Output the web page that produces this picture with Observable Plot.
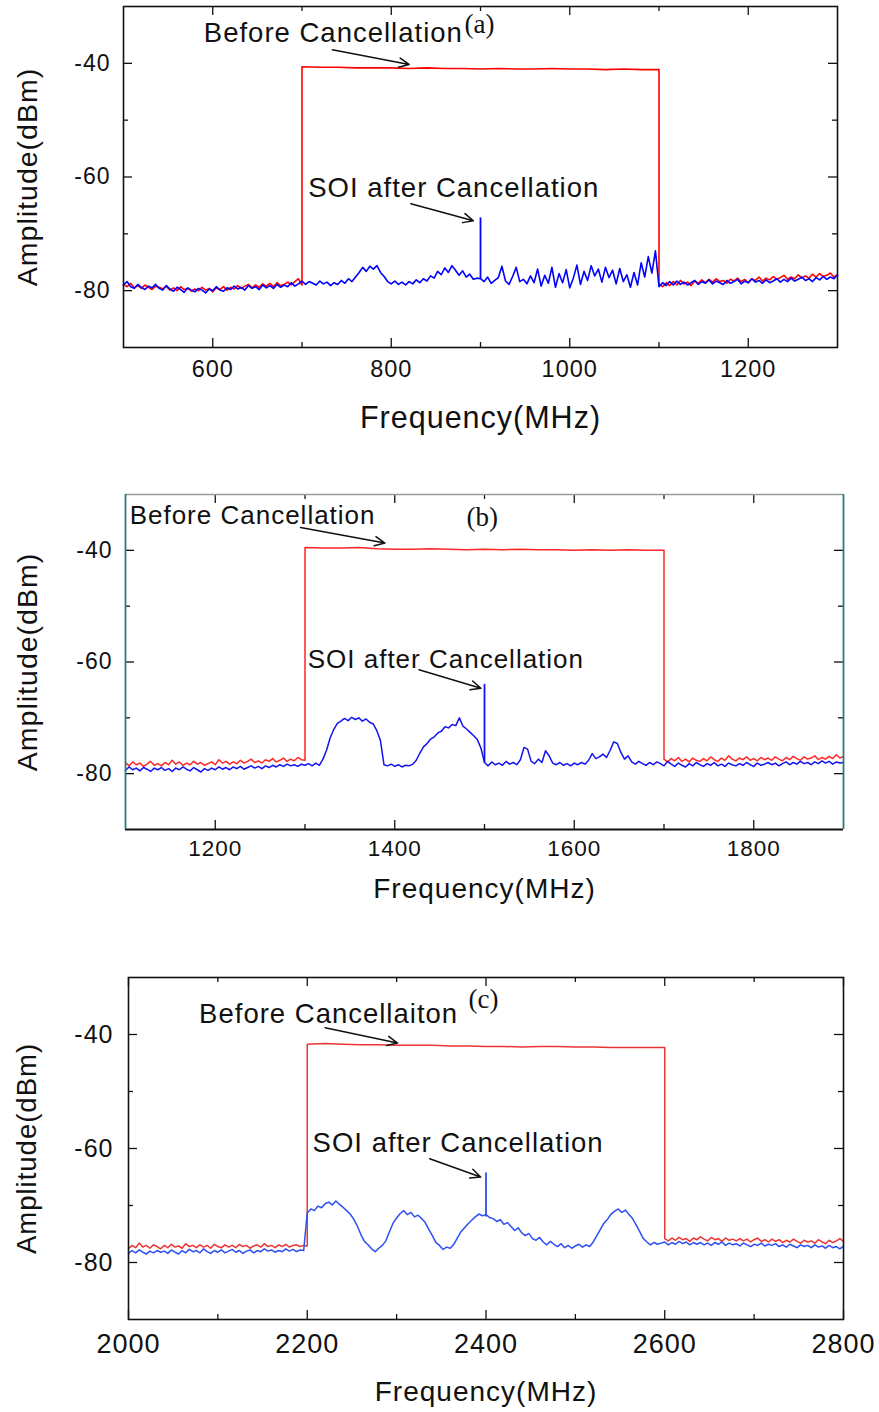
<!DOCTYPE html>
<html><head><meta charset="utf-8">
<script src="https://cdn.jsdelivr.net/npm/d3@7"></script>
<script src="https://cdn.jsdelivr.net/npm/@observablehq/plot@0.6"></script>
<style>
body{margin:0;background:#fff;}
#wrap{position:relative;width:879px;height:1412px;overflow:hidden;background:#fff;}
#wrap > svg{position:absolute;left:0;}
svg text{letter-spacing:1px;}
svg g.tag text{letter-spacing:0;}
</style></head><body><div id="wrap"></div>
<script>
// ---------- shared ----------
const yDomain = [-90, -30];
const yLabelTicks = [-40, -60, -80];
const yMinorTicks = [-50, -70];
const yTitle = "Amplitude(dBm)";
const xTitle = "Frequency(MHz)";

// ---------- panel (a) ----------
const xDomainA = [500, 1300];
const bandA = [700, 1100];
const xLabelTicksA = [600, 800, 1000, 1200];
const xMinorTicksA = [700, 900, 1100];
const blueA = [
-79.0,-78.4,-79.3,-79.6,-78.9,-79.4,-79.8,-79.2,-79.5,-78.9,
-79.6,-79.9,-79.1,-79.7,-80.1,-79.4,-79.8,-80.3,-79.5,-79.9,
-80.2,-79.6,-79.9,-80.4,-79.7,-80.0,-79.3,-79.9,-80.1,-79.5,
-79.8,-79.2,-79.7,-79.4,-79.9,-79.1,-79.6,-79.3,-79.8,-79.0,
-79.5,-79.1,-79.6,-78.9,-79.4,-79.0,-79.3,-78.6,-79.2,-78.8,
-78.3,-78.9,-78.4,-78.7,-79.0,-78.3,-78.8,-78.5,-79.1,-78.6,
-78.9,-78.2,-78.7,-77.9,-78.4,-77.6,-76.8,-75.9,-76.6,-75.7,
-76.2,-75.6,-76.8,-77.5,-78.4,-78.8,-78.3,-78.9,-78.5,-79.0,
-78.4,-78.8,-78.1,-78.6,-77.9,-78.3,-77.4,-77.8,-76.6,-77.2,
-76.0,-76.8,-75.6,-76.4,-77.3,-76.5,-77.6,-77.1,-78.0,-77.8,
-77.9,-78.4,-77.6,-78.7,-78.2,-77.7,-75.7,-78.3,-78.9,-77.5,
-75.9,-78.4,-78.0,-78.8,-77.4,-78.6,-76.2,-79.2,-77.3,-78.7,
-75.9,-79.4,-77.0,-78.6,-76.3,-79.5,-77.8,-75.5,-78.9,-76.6,
-78.2,-75.6,-77.4,-76.2,-78.5,-75.9,-77.7,-76.4,-78.8,-76.1,
-78.4,-77.2,-79.4,-76.8,-79.0,-75.1,-77.6,-74.0,-76.9,-73.0,
-79.3,-78.6,-79.1,-78.4,-79.0,-78.3,-78.9,-78.5,-79.0,-78.6,
-78.2,-78.9,-78.4,-78.7,-78.1,-78.8,-78.3,-78.6,-78.9,-78.2,
-78.7,-78.4,-78.0,-78.8,-78.3,-78.6,-77.9,-78.5,-78.2,-78.7,
-78.1,-78.6,-78.3,-77.9,-78.5,-78.0,-78.4,-77.8,-78.3,-78.0,
-77.6,-78.2,-77.9,-78.4,-77.7,-78.1,-77.5,-78.0,-77.6,-77.9,
-77.2];
const redLowA = [
-78.9,-79.3,-78.7,-79.5,-79.1,-79.6,-79.0,-79.4,-79.8,-79.2,
-79.4,-79.7,-79.2,-79.9,-79.5,-80.0,-79.3,-79.8,-79.6,-80.1,
-79.7,-80.0,-79.4,-79.9,-79.6,-80.2,-79.5,-79.8,-79.3,-79.9,
-79.4,-79.7,-79.1,-79.6,-79.2,-78.9,-79.5,-79.0,-79.4,-78.8,
-79.2,-78.7,-79.3,-78.6,-79.1,-78.9,-78.5,-79.0,-78.4,-77.9,
-79.0];
const redBandA = [-40.6,-40.7,-40.7,-40.8,-40.8,-40.8,-40.9,-40.8,-40.9,-40.9,-41.0,-40.9,-41.0,-41.0,-40.9,-41.0,-41.0,-41.1,-41.0,-41.1,-41.1];
const redHighA = [
-78.9,
-79.3,-78.6,-79.1,-78.4,-79.0,-78.2,-78.8,-78.5,-79.1,-78.3,
-78.7,-78.1,-78.6,-78.0,-78.5,-77.9,-78.4,-78.2,-78.7,-78.0,
-78.3,-77.8,-78.4,-78.0,-78.6,-77.9,-78.2,-77.6,-78.3,-77.8,
-78.1,-77.5,-78.0,-77.7,-77.3,-78.0,-77.6,-77.9,-77.2,-77.8,
-77.4,-77.8,-77.1,-77.6,-77.0,-77.5,-77.3,-76.9,-77.6,-77.2];
const spikeA = [{f: 900, base: -78.0, peak: -67.2}];
const notesA = [
  {label: "Before Cancellation", f: 590, db: -36.3},
  {label: "SOI after Cancellation", f: 707, db: -63.5}];
const tagA = [{label: "(a)", f: 882, db: -34.6}];
const arrowsA = [
  {f1: 734, db1: -37.6, f2: 820, db2: -40.2},
  {f1: 822, db1: -64.7, f2: 892, db2: -67.7}];

// ---------- panel (b) ----------
const xDomainB = [1100, 1900];
const bandB = [1300, 1700];
const xLabelTicksB = [1200, 1400, 1600, 1800];
const xMinorTicksB = [1300, 1500, 1700];
const blueB = [
-79.4,-78.8,-79.3,-79.0,-79.5,-78.9,-79.2,-79.6,-79.0,-79.3,
-78.9,-79.4,-79.1,-79.6,-79.0,-79.3,-78.8,-79.2,-79.5,-78.9,
-79.3,-79.7,-79.1,-79.4,-79.0,-79.3,-78.8,-79.2,-78.9,-79.3,
-78.8,-79.1,-78.7,-79.2,-78.9,-78.6,-79.0,-78.7,-79.1,-78.6,
-78.9,-78.5,-78.8,-78.4,-78.7,-78.3,-78.6,-78.4,-78.7,-78.3,
-78.5,-78.2,-78.6,-78.1,-78.5,-77.4,-75.8,-73.6,-72.1,-71.0,
-70.6,-70.1,-70.5,-69.9,-70.3,-70.0,-70.6,-70.2,-70.8,-71.1,
-72.3,-74.0,-78.4,-78.6,-78.3,-78.7,-78.4,-78.8,-78.5,-78.6,
-78.3,-77.6,-76.3,-75.2,-74.6,-73.8,-73.4,-72.7,-72.4,-71.6,
-71.8,-71.2,-71.4,-70.0,-71.5,-72.0,-72.6,-73.2,-73.9,-75.4,
-78.0,-78.6,-77.9,-78.4,-78.1,-78.5,-77.8,-78.3,-78.0,-78.4,
-77.5,-75.3,-75.6,-77.8,-78.2,-77.4,-78.0,-75.9,-76.8,-78.1,
-78.4,-78.0,-78.5,-78.2,-78.6,-78.1,-78.4,-78.0,-78.3,-77.6,
-76.4,-77.3,-77.0,-76.5,-77.1,-75.8,-74.3,-74.6,-76.2,-77.4,
-76.8,-77.9,-78.3,-77.8,-78.2,-78.5,-78.0,-78.4,-77.9,-78.2,
-78.6,-77.8,-78.3,-78.7,-78.1,-78.5,-78.8,-78.2,-78.6,-78.0,
-78.4,-78.7,-78.2,-78.5,-78.0,-78.6,-78.3,-78.7,-78.1,-78.4,
-78.6,-78.2,-78.5,-78.0,-78.4,-78.7,-78.1,-78.5,-78.3,-78.0,
-78.4,-78.1,-78.6,-78.2,-77.9,-78.4,-78.0,-78.3,-77.8,-78.2,
-78.0,-78.4,-77.9,-78.2,-77.7,-78.1,-77.8,-78.3,-77.9,-78.1,
-78.0];
const redLowB = [
-78.0,-78.6,-77.9,-78.4,-78.1,-78.7,-78.3,-77.8,-78.5,-78.2,
-78.6,-78.0,-78.4,-77.6,-78.3,-77.9,-78.5,-78.1,-78.4,-77.8,
-78.3,-78.0,-78.5,-78.2,-77.9,-78.4,-77.5,-78.1,-77.8,-78.3,
-77.9,-78.2,-77.6,-78.1,-77.8,-77.4,-78.0,-77.7,-78.1,-77.5,
-77.8,-77.3,-77.9,-77.6,-77.2,-77.8,-77.4,-77.7,-77.1,-77.5,
-77.6];
const redBandB = [-39.5,-39.6,-39.6,-39.5,-39.7,-39.8,-39.8,-39.7,-39.8,-39.9,-39.8,-39.9,-39.8,-39.9,-39.9,-40.0,-39.9,-40.0,-39.9,-40.0,-40.0];
const redHighB = [
-77.4,
-77.9,-77.3,-77.7,-77.1,-77.8,-77.4,-77.9,-77.2,-77.6,-77.8,
-77.3,-77.7,-77.0,-77.5,-77.8,-77.2,-77.6,-76.8,-77.4,-77.7,
-77.2,-77.5,-77.0,-77.6,-77.3,-77.7,-77.1,-77.5,-77.2,-77.6,
-77.0,-77.4,-77.7,-77.1,-77.5,-76.9,-77.3,-77.6,-77.0,-77.4,
-77.2,-76.8,-77.5,-77.1,-77.4,-76.9,-77.3,-76.6,-77.2,-76.9];
const spikeB = [{f: 1500, base: -78.0, peak: -64.0}];
const notesB = [
  {label: "Before Cancellation", f: 1104.6, db: -35.3},
  {label: "SOI after Cancellation", f: 1303, db: -61.0}];
const tagB = [{label: "(b)", f: 1480, db: -35.6}];
const arrowsB = [
  {f1: 1295, db1: -35.9, f2: 1389, db2: -38.7},
  {f1: 1427, db1: -61.4, f2: 1496, db2: -64.7}];

// ---------- panel (c) ----------
const xDomainC = [2000, 2800];
const bandC = [2200, 2600];
const xLabelTicksC = [2000, 2200, 2400, 2600, 2800];
const xMinorTicksC = [2100, 2300, 2500, 2700];
const blueC = [
-78.4,-77.9,-78.3,-77.8,-78.2,-78.5,-78.0,-78.3,-77.9,-78.2,
-78.0,-78.4,-77.8,-78.2,-78.5,-77.9,-78.3,-77.7,-78.1,-77.9,
-78.3,-77.6,-78.1,-78.4,-77.9,-78.2,-77.8,-78.3,-78.0,-77.7,
-78.2,-77.9,-78.4,-78.0,-77.8,-78.3,-77.9,-78.1,-77.6,-78.0,
-77.8,-78.2,-77.9,-78.1,-77.6,-78.0,-77.7,-78.1,-77.8,-77.9,
-71.3,-70.6,-70.9,-70.1,-70.4,-69.7,-69.4,-69.9,-69.2,-69.8,
-70.3,-70.9,-71.5,-72.4,-73.6,-75.1,-76.3,-76.9,-77.6,-78.1,
-77.5,-77.0,-76.2,-74.6,-73.1,-72.2,-71.4,-70.9,-71.6,-71.2,
-72.0,-71.7,-72.3,-73.0,-74.2,-75.3,-76.5,-77.0,-77.7,-77.3,
-77.5,-76.8,-75.7,-74.6,-73.9,-73.2,-72.6,-72.0,-71.5,-71.8,
-71.6,-72.1,-72.3,-72.8,-72.5,-73.3,-73.0,-73.7,-74.4,-73.9,
-74.8,-75.3,-74.9,-75.8,-76.1,-75.6,-76.4,-76.9,-76.3,-76.8,
-77.2,-76.7,-77.4,-77.0,-77.5,-77.1,-76.8,-77.3,-76.9,-77.2,
-76.4,-75.3,-74.2,-73.1,-72.4,-71.5,-71.0,-70.6,-71.2,-70.8,
-71.6,-72.3,-73.4,-74.6,-75.8,-76.4,-76.9,-76.5,-76.8,-76.6,
-76.4,-76.9,-76.5,-76.8,-76.3,-76.7,-76.4,-76.9,-76.5,-76.8,
-76.5,-76.9,-76.6,-77.0,-76.5,-76.8,-76.4,-77.0,-76.6,-76.9,
-76.7,-77.1,-76.6,-76.9,-77.2,-76.8,-77.0,-76.6,-77.1,-76.8,
-77.0,-76.7,-77.2,-76.9,-77.3,-76.8,-77.1,-77.4,-76.9,-77.2,
-77.0,-77.4,-76.9,-77.3,-77.1,-77.5,-77.0,-77.4,-77.2,-77.6,
-77.1];
const redLowC = [
-77.6,-77.0,-77.4,-76.6,-77.3,-77.0,-77.5,-76.9,-77.2,-77.6,
-77.0,-77.4,-76.8,-77.3,-77.1,-77.5,-76.7,-77.2,-77.0,-77.4,
-76.9,-77.3,-77.0,-77.5,-76.8,-77.2,-77.4,-76.9,-77.3,-77.0,
-77.4,-76.8,-77.2,-77.0,-77.5,-77.1,-76.9,-77.3,-76.7,-77.2,
-77.0,-77.4,-76.9,-77.2,-76.8,-77.3,-77.0,-76.9,-77.2,-77.0,
-77.1];
const redBandC = [-41.7,-41.6,-41.7,-41.8,-41.8,-41.9,-41.9,-41.9,-42.0,-42.0,-42.1,-42.1,-42.2,-42.1,-42.1,-42.2,-42.2,-42.3,-42.3,-42.3,-42.3];
const redHighC = [
-75.8,
-76.2,-75.7,-76.1,-75.6,-76.0,-75.8,-76.3,-75.7,-76.0,-75.5,
-75.9,-76.2,-75.6,-76.0,-75.8,-76.3,-75.7,-76.1,-75.9,-76.2,
-75.8,-76.2,-75.9,-76.4,-76.0,-75.7,-76.3,-76.0,-76.4,-75.9,
-76.3,-76.0,-76.5,-76.1,-76.4,-75.9,-76.3,-76.6,-76.1,-76.4,
-76.2,-76.6,-76.0,-76.4,-76.7,-76.1,-76.5,-76.2,-75.8,-76.3];
const spikeC = [{f: 2400, base: -72.0, peak: -64.3}];
const notesC = [
  {label: "Before Cancellaiton", f: 2079, db: -37.9},
  {label: "SOI after Cancellation", f: 2206, db: -60.7}];
const tagC = [{label: "(c)", f: 2380.5, db: -35.4}];
const arrowsC = [
  {f1: 2220, db1: -38.8, f2: 2301, db2: -41.5},
  {f1: 2337, db1: -61.8, f2: 2394, db2: -65.0}];

// ---------- builder ----------
function seg(start, step, values) { return values.map((v, i) => ({f: start + step * i, db: v})); }

function panel(c) {
  const W = 879;
  const ph = c.height - c.mt - c.mb, pw = W - c.ml - c.mr;
  const blue = seg(c.xDomain[0], 4, c.blue);
  const red = [...seg(c.xDomain[0], 4, c.redLow), ...seg(c.band[0], 20, c.redBand), ...seg(c.band[1], 4, c.redHigh)];
  const ink = "#111";
  const frameMarks = c.tealFrame ? [
    Plot.ruleY([c.yDomain[1]], {stroke: "#9a9a9a", strokeWidth: 1.5}),
    Plot.ruleY([c.yDomain[0]], {stroke: "#111", strokeWidth: 1.8}),
    Plot.ruleX([c.xDomain[0]], {stroke: "#2b7c7c", strokeWidth: 1.8}),
    Plot.ruleX([c.xDomain[1]], {stroke: "#2b7c7c", strokeWidth: 1.8})
  ] : [Plot.frame({stroke: "#111", strokeWidth: 1.6})];
  const svg = Plot.plot({
    width: W, height: c.height,
    marginLeft: c.ml, marginRight: c.mr, marginTop: c.mt, marginBottom: c.mb,
    x: {domain: c.xDomain},
    y: {domain: c.yDomain},
    style: {fontFamily: "'Liberation Sans', Arial, sans-serif", color: ink, background: "transparent", overflow: "visible"},
    marks: [
      Plot.line(red, {x: "f", y: "db", stroke: c.redColor, strokeWidth: c.lw}),
      Plot.line(blue, {x: "f", y: "db", stroke: c.blueColor, strokeWidth: c.lw}),
      Plot.ruleX(c.spike, {x: "f", y1: "base", y2: "peak", stroke: c.blueColor, strokeWidth: 1.8}),
      // inward ticks
      Plot.ruleX(c.xLabelTicks, {insetTop: ph - 9, stroke: ink, strokeWidth: 1.3}),
      Plot.ruleX(c.xMinorTicks, {insetTop: ph - 5, stroke: ink, strokeWidth: 1.3}),
      Plot.ruleX(c.xLabelTicks, {insetBottom: ph - 9, stroke: ink, strokeWidth: 1.3}),
      Plot.ruleX(c.xMinorTicks, {insetBottom: ph - 5, stroke: ink, strokeWidth: 1.3}),
      Plot.ruleY(c.yLabelTicks, {insetRight: pw - 9, stroke: ink, strokeWidth: 1.3}),
      Plot.ruleY(c.yMinorTicks, {insetRight: pw - 5, stroke: ink, strokeWidth: 1.3}),
      Plot.ruleY(c.yLabelTicks, {insetLeft: pw - 9, stroke: ink, strokeWidth: 1.3}),
      Plot.ruleY(c.yMinorTicks, {insetLeft: pw - 5, stroke: ink, strokeWidth: 1.3}),
      ...frameMarks,
      Plot.axisX({ticks: c.xLabelTicks, tickSize: 0, tickPadding: c.xPad, fontSize: c.xTickFont, tickFormat: d => String(d), label: null}),
      Plot.axisY({ticks: c.yLabelTicks, tickSize: 0, tickPadding: c.yPad, fontSize: c.yTickFont, tickFormat: d => String(d), label: null}),
      Plot.text([xTitle], {text: d => d, frameAnchor: "bottom", dy: c.xTitleDy, lineAnchor: "bottom", fontSize: c.xTitleFont, fill: ink}),
      Plot.text([yTitle], {text: d => d, frameAnchor: "left", dx: c.yTitleDx, rotate: -90, textAnchor: "middle", lineAnchor: "middle", fontSize: c.yTitleFont, fill: ink}),
      Plot.arrow(c.arrows, {x1: "f1", y1: "db1", x2: "f2", y2: "db2", stroke: ink, strokeWidth: 1.5, headLength: 11, headAngle: 50}),
      Plot.text(c.notes, {x: "f", y: "db", text: "label", textAnchor: "start", lineAnchor: "bottom", fontSize: c.noteFont, fill: ink}),
      Plot.text(c.tag, {x: "f", y: "db", text: "label", textAnchor: "start", lineAnchor: "bottom", fontSize: 27, fontFamily: "'Liberation Serif', 'Times New Roman', serif", fill: ink, className: "tag"})
    ]
  });
  svg.style.top = c.top + "px";
  return svg;
}

const wrap = document.getElementById("wrap");
wrap.appendChild(panel({
  top: 0, height: 440, ml: 123, mr: 42, mt: 6, mb: 93,
  xDomain: xDomainA, band: bandA, yDomain,
  blue: blueA, redLow: redLowA, redBand: redBandA, redHigh: redHighA, spike: spikeA,
  xLabelTicks: xLabelTicksA, xMinorTicks: xMinorTicksA, yLabelTicks, yMinorTicks,
  notes: notesA, tag: tagA, arrows: arrowsA,
  redColor: "#ff0000", blueColor: "#0000ff", lw: 1.6,
  xPad: 13, yPad: 13, xTickFont: 23.5, yTickFont: 23,
  xTitleDy: 80, xTitleFont: 30.5, yTitleDx: -96, yTitleFont: 28.5, noteFont: 27.5
}));
wrap.appendChild(panel({
  top: 480, height: 430, ml: 125, mr: 36, mt: 14, mb: 81,
  xDomain: xDomainB, band: bandB, yDomain, tealFrame: true,
  blue: blueB, redLow: redLowB, redBand: redBandB, redHigh: redHighB, spike: spikeB,
  xLabelTicks: xLabelTicksB, xMinorTicks: xMinorTicksB, yLabelTicks, yMinorTicks,
  notes: notesB, tag: tagB, arrows: arrowsB,
  redColor: "#ff2626", blueColor: "#1414ee", lw: 1.5,
  xPad: 11, yPad: 13, xTickFont: 22.5, yTickFont: 23,
  xTitleDy: 68, xTitleFont: 28, yTitleDx: -98, yTitleFont: 28.5, noteFont: 26
}));
wrap.appendChild(panel({
  top: 960, height: 452, ml: 128, mr: 36, mt: 17, mb: 93,
  xDomain: xDomainC, band: bandC, yDomain,
  blue: blueC, redLow: redLowC, redBand: redBandC, redHigh: redHighC, spike: spikeC,
  xLabelTicks: xLabelTicksC, xMinorTicks: xMinorTicksC, yLabelTicks, yMinorTicks,
  notes: notesC, tag: tagC, arrows: arrowsC,
  redColor: "#ec3434", blueColor: "#2d4ef0", lw: 1.5,
  xPad: 14, yPad: 15, xTickFont: 27, yTickFont: 25,
  xTitleDy: 81, xTitleFont: 28, yTitleDx: -101, yTitleFont: 27.5, noteFont: 27.5
}));
</script></body></html>
